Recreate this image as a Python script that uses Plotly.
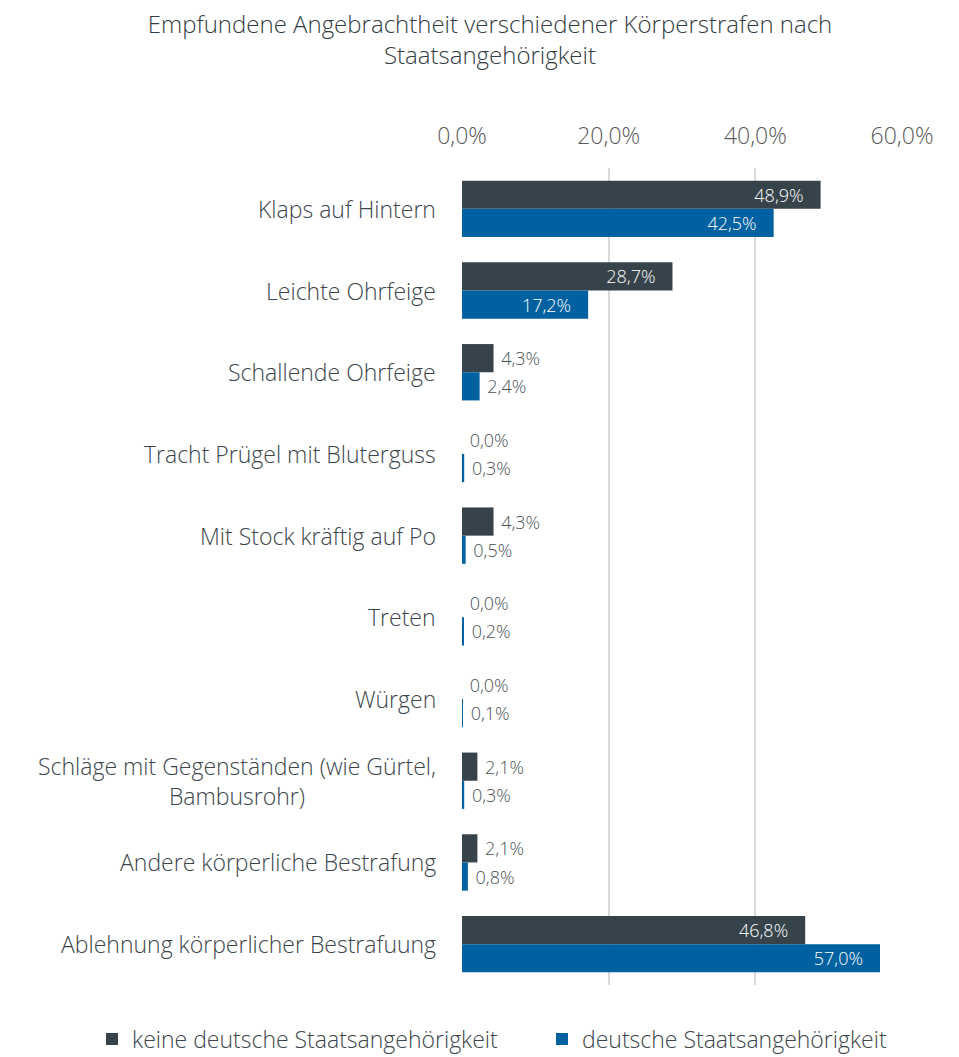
import plotly.graph_objects as go

categories = [
    "Klaps auf Hintern",
    "Leichte Ohrfeige",
    "Schallende Ohrfeige",
    "Tracht Prügel mit Bluterguss",
    "Mit Stock kräftig auf Po",
    "Treten",
    "Würgen",
    "Schläge mit Gegenständen (wie Gürtel,<br>Bambusrohr)",
    "Andere körperliche Bestrafung",
    "Ablehnung körperlicher Bestrafuung",
]
keine_deutsche = [48.9, 28.7, 4.3, 0.0, 4.3, 0.0, 0.0, 2.1, 2.1, 46.8]
deutsche = [42.5, 17.2, 2.4, 0.3, 0.5, 0.2, 0.1, 0.3, 0.8, 57.0]
series_names = ["keine deutsche Staatsangehörigkeit", "deutsche Staatsangehörigkeit"]
tick_vals = [0, 20, 40, 60]
tick_text = ["0,0%", "20,0%", "40,0%", "60,0%"]

FONT = "Open Sans"
DARK = "#37434a"
BLUE = "#0061a1"
TXT = "#3c454b"
LBL = "#4a5257"
NB = "\u00a0"


def positions(vals):
    return ["inside" if v > 10 else "outside" for v in vals]


def templates(vals):
    return [("%{x:.1f}%" + NB + NB + NB) if v > 10 else (NB + "%{x:.1f}%") for v in vals]


fig = go.Figure()
for name, vals, col, lg in [(series_names[0], keine_deutsche, DARK, "legend"),
                            (series_names[1], deutsche, BLUE, "legend2")]:
    fig.add_trace(go.Bar(
        y=categories, x=vals, name=name, orientation="h", legend=lg,
        marker=dict(color=col, line=dict(width=0)),
        texttemplate=templates(vals), textposition=positions(vals),
        insidetextanchor="end",
        textfont=dict(family=FONT, size=18, weight=300),
        outsidetextfont=dict(family=FONT, size=18, color=LBL, weight=300),
        insidetextfont=dict(family=FONT, size=18, color="white", weight=300),
        cliponaxis=False,
        constraintext="none",
    ))

for c in categories:
    fig.add_annotation(
        x=0, xref="paper", xanchor="right", xshift=-24,
        y=c, yref="y", text=c, showarrow=False, align="center",
        font=dict(family=FONT, size=23, color=TXT, weight=300),
    )

plot_l, plot_w = 454, 440
plot_h = 1057 - 160 - 80
legend_common = dict(
    orientation="h", xanchor="left", y=-54 / plot_h, yanchor="middle",
    font=dict(family=FONT, size=23, color=TXT, weight=300),
    bgcolor="rgba(0,0,0,0)",
)
fig.update_layout(
    width=959, height=1057,
    margin=dict(l=plot_l, r=65, t=160, b=80, autoexpand=False),
    paper_bgcolor="white", plot_bgcolor="white",
    separators=",.",
    barmode="group", bargap=0.31, bargroupgap=0,
    title=dict(
        text="Empfundene Angebrachtheit verschiedener Körperstrafen nach<br>Staatsangehörigkeit",
        x=482 / 959, xanchor="center", y=1 - 24.5 / 1057, yanchor="middle",
        font=dict(family=FONT, size=24, color="#333c42", weight=300),
    ),
    xaxis=dict(
        side="top", range=[0, 60], tickvals=tick_vals, ticktext=tick_text,
        showgrid=True, gridcolor="#d9d9d9", gridwidth=2,
        zeroline=False, showline=False, ticks="",
        ticklabelstandoff=18,
        tickfont=dict(family=FONT, size=23, color="#595959", weight=300),
    ),
    yaxis=dict(
        autorange="reversed", showticklabels=False, showgrid=False,
        zeroline=False, showline=False, ticks="",
    ),
    legend=dict(x=(84 - plot_l) / plot_w, **legend_common),
    legend2=dict(x=(534 - plot_l) / plot_w, **legend_common),
    showlegend=True,
)

fig.write_html("out.html")
